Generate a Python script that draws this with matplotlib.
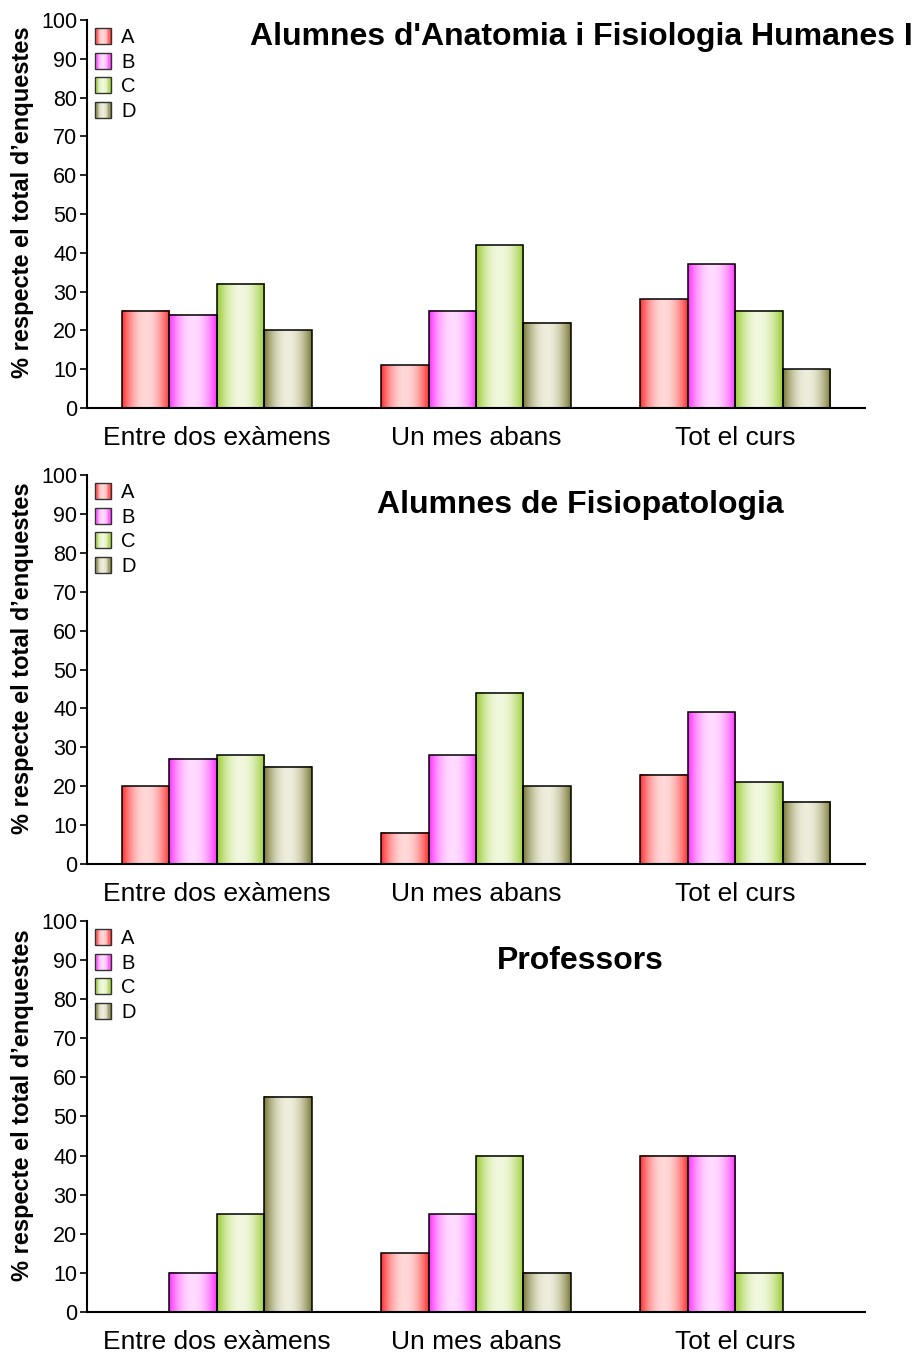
import numpy as np
import matplotlib
matplotlib.use("Agg")
import matplotlib.pyplot as plt
import matplotlib.patches as mpatches
from matplotlib.colors import to_rgb
from matplotlib.legend_handler import HandlerBase

plt.rcParams['font.family'] = ['Liberation Sans', 'DejaVu Sans']

categories = ["Entre dos exàmens", "Un mes abans", "Tot el curs"]
series = ["A", "B", "C", "D"]

# Alumnes d'Anatomia i Fisiologia Humanes I
anat_a = [25, 11, 28]
anat_b = [24, 25, 37]
anat_c = [32, 42, 25]
anat_d = [20, 22, 10]

# Alumnes de Fisiopatologia
fisio_a = [20, 8, 23]
fisio_b = [27, 28, 39]
fisio_c = [28, 44, 21]
fisio_d = [25, 20, 16]

# Professors
prof_a = [0, 15, 40]
prof_b = [10, 25, 40]
prof_c = [25, 40, 10]
prof_d = [55, 10, 0]

titles = ["Alumnes d'Anatomia i Fisiologia Humanes I",
          "Alumnes de Fisiopatologia",
          "Professors"]

# edge colour, centre colour of the cylinder-like gradient
edge_cols = ["#ff3030", "#ff33ff", "#99cc33", "#7a7a38"]
mid_cols = ["#ffd8d8", "#ffdcff", "#f2f8df", "#efeedd"]


def gradient_row(i, n=64):
    u = np.linspace(0, 1, n)
    w = np.abs(2 * u - 1) ** 2
    e = np.array(to_rgb(edge_cols[i]))
    m = np.array(to_rgb(mid_cols[i]))
    return (m[None, :] * (1 - w[:, None]) + e[None, :] * w[:, None])[None, :, :]


class GradientHandler(HandlerBase):
    def __init__(self, idx):
        super().__init__()
        self.idx = idx

    def create_artists(self, legend, orig_handle, xdescent, ydescent,
                       width, height, fontsize, trans):
        size = min(width, height)
        x0 = -xdescent
        y0 = -ydescent + (height - size) / 2
        cols = gradient_row(self.idx, 12)[0]
        arts = []
        step = size / len(cols)
        for k, c in enumerate(cols):
            r = mpatches.Rectangle((x0 + k * step, y0), step, size,
                                   facecolor=c, edgecolor='none', transform=trans)
            arts.append(r)
        arts.append(mpatches.Rectangle((x0, y0), size, size, facecolor='none',
                                       edgecolor='#333333', linewidth=1.0,
                                       transform=trans))
        return arts


fig = plt.figure(figsize=(9.17, 13.52), dpi=100)
panels = [
    ([anat_a, anat_b, anat_c, anat_d], [0.0949, 0.6982, 0.8484, 0.2870]),
    ([fisio_a, fisio_b, fisio_c, fisio_d], [0.0949, 0.3609, 0.8484, 0.2877]),
    ([prof_a, prof_b, prof_c, prof_d], [0.0949, 0.0296, 0.8484, 0.2892]),
]
title_pos = [(0.995, 0.973, 'right'), (0.633, 0.6265, 'center'), (0.633, 0.2895, 'center')]

x = np.arange(len(categories))
bw = 0.183
for p, (vals, rect) in enumerate(panels):
    ax = fig.add_axes(rect)
    handles = []
    for i, v in enumerate(vals):
        bars = ax.bar(x + (i - 1.5) * bw, v, bw, facecolor='none',
                      edgecolor='black', linewidth=1.1, zorder=3)
        for b in bars:
            if b.get_height() <= 0:
                continue
            ax.imshow(gradient_row(i), extent=[b.get_x(), b.get_x() + b.get_width(),
                                               0, b.get_height()],
                      aspect='auto', interpolation='bilinear', zorder=2)
        handles.append(mpatches.Patch(label=series[i]))
    ax.set_xlim(-0.5, 2.5)
    ax.set_ylim(0, 100)
    ax.set_yticks(range(0, 101, 10))
    ax.set_xticks(x)
    ax.set_xticklabels(categories, fontsize=19)
    ax.tick_params(axis='x', length=0, pad=13)
    ax.tick_params(axis='y', labelsize=15.5, length=5, width=1.2, pad=2)
    for s in ['top', 'right']:
        ax.spines[s].set_visible(False)
    ax.spines['left'].set_linewidth(1.5)
    ax.spines['bottom'].set_linewidth(1.5)
    ax.set_ylabel("% respecte el total d’enquestes", fontsize=17, fontweight='bold')
    ax.yaxis.set_label_coords(-0.068, 0.53)
    leg = ax.legend(handles=handles, loc='upper left', bbox_to_anchor=(0.0, 1.0),
                    frameon=False, fontsize=14.5, handlelength=0.85, handleheight=0.85,
                    handletextpad=0.45, labelspacing=0.28, borderaxespad=0.05,
                    borderpad=0.35,
                    handler_map={h: GradientHandler(i) for i, h in enumerate(handles)})
    tx, ty, ha = title_pos[p]
    fig.text(tx, ty, titles[p], fontsize=23, fontweight='bold', ha=ha, va='center')

fig.savefig("out.png", dpi=100)
